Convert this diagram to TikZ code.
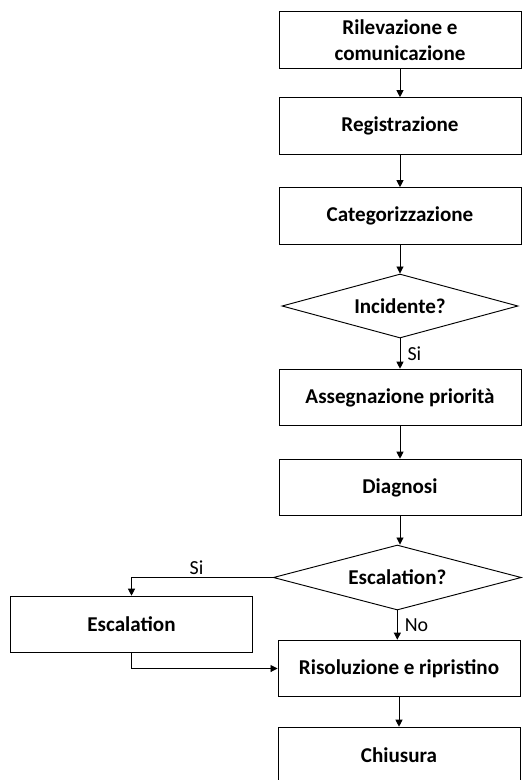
\documentclass[tikz,border=0pt]{standalone}
\usepackage{fontspec}
\setmainfont{Carlito}
\usepackage{tikz}
\usetikzlibrary{positioning,shapes.geometric,arrows.meta}

\begin{document}
\begin{tikzpicture}[
    stepbox/.style={
      draw,
      rectangle,
      align=center,
      line width=0.8pt,
      font=\fontsize{18}{22}\selectfont\bfseries,
      minimum width=7.26cm,
      minimum height=1.7cm
    },
    choice/.style={
      draw,
      diamond,
      shape aspect=3.5,
      inner sep=0pt,
      line width=0.8pt,
      font=\fontsize{18}{22}\selectfont\bfseries,
      minimum width=7.08cm,
      minimum height=1.92cm
    },
    flow/.style={
      line width=0.8pt,
      -{Triangle[width=6pt,length=6pt]}
    },
    answer/.style={
      font=\fontsize{17}{20}\selectfont,
      inner sep=6pt
    }
  ]

    \useasboundingbox (0,0) rectangle (15.66,-23.4);

    % Fasi principali
    \node[stepbox] (rilevazione) at (12,-1.2)
      {Rilevazione e\\comunicazione};

    \node[stepbox] (registrazione) at (12,-3.78)
      {Registrazione};

    \node[stepbox] (categorizzazione) at (12,-6.48)
      {Categorizzazione};

    \node[choice] (incidente) at (12,-9.18)
      {Incidente?};

    \node[stepbox] (priorita) at (12,-11.925)
      {Assegnazione priorità};

    \node[stepbox] (diagnosi) at (12,-14.625)
      {Diagnosi};

    \node[choice, minimum width=7.44cm, minimum height=1.95cm] (escdecision) at (11.92,-17.325)
      {Escalation?};

    \node[stepbox] (escalation) at (3.945,-18.735)
      {Escalation};

    \node[stepbox] (risoluzione) at (11.97,-20.055)
      {Risoluzione e ripristino};

    \node[stepbox] (chiusura) at (11.97,-22.665)
      {Chiusura};

    % Collegamenti
    \draw[flow] (rilevazione) -- (registrazione);
    \draw[flow] (registrazione) -- (categorizzazione);
    \draw[flow] (categorizzazione) -- (incidente);
    \draw[flow] (incidente) -- node[answer, right] {Si} (priorita);
    \draw[flow] (priorita) -- (diagnosi);
    \draw[flow] (diagnosi.south) -- (diagnosi.south |- escdecision.north);
    \draw[flow] (escdecision.south) -- node[answer, right] {No} (escdecision.south |- risoluzione.north);
    \draw[flow] (escdecision.west) -| node[answer, pos=0.27, above, inner sep=2pt] {Si} (escalation.north);
    \draw[flow] (escalation.south) |- (risoluzione.west);
    \draw[flow] (risoluzione.south) -- (risoluzione.south |- chiusura.north);

  \end{tikzpicture}
\end{document}
